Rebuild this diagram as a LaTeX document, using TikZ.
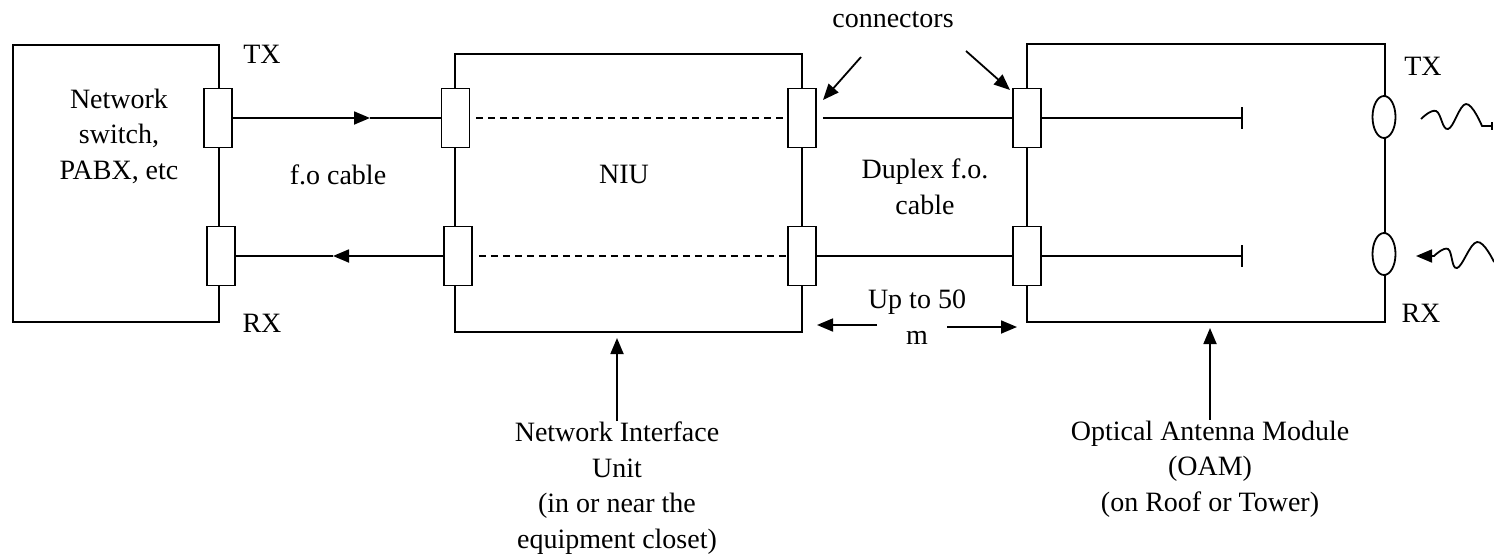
\documentclass[tikz,border=0pt]{standalone}
\usepackage{fontspec}
\setmainfont{Liberation Serif}
\usetikzlibrary{arrows.meta,shapes.geometric}

\begin{document}
\begin{tikzpicture}[x=0.5pt,y=-0.5pt,line width=0.9pt,
  font=\fontsize{14}{17.75}\selectfont,
  >={Triangle[length=8pt,width=6.5pt]},
  unitbox/.style={draw,inner sep=0pt},
  conn/.style={draw,fill=white,inner sep=0pt,minimum width=14pt,minimum height=29.5pt},
  lens/.style={ellipse,draw,fill=white,inner sep=0pt,minimum width=11.5pt,minimum height=21pt},
  lbl/.style={align=center,inner sep=0pt},
  stub/.style={-{Bar[width=11pt,line width=1.2pt]}}]
\useasboundingbox (0,0) rectangle (1494,557);
% units
\node[unitbox,minimum width=103pt,minimum height=138.5pt] (sw) at (116,183.5) {};
\node[unitbox,minimum width=173.5pt,minimum height=139pt] (niu) at (628.5,193) {};
\node[unitbox,minimum width=179pt,minimum height=139pt] (oam) at (1206,183) {};
% connectors
\node[conn] (swtx) at (218,118) {};
\node[conn] (swrx) at (221,256) {};
\node[conn] (niutl) at (455.5,118) {};
\node[conn] (niubl) at (458,256) {};
\node[conn] (niutr) at (802,118) {};
\node[conn] (niubr) at (802,256) {};
\node[conn] (oamt) at (1027,118) {};
\node[conn] (oamb) at (1027,256) {};
\node[lens] (txlens) at (1384,117) {};
\node[lens] (rxlens) at (1384,254) {};
% labels
\node[lbl] (swlbl) at (119,136) {Network\\switch,\\PABX, etc};
\node[lbl] (swtxlbl) at (262,54) {TX};
\node[lbl] (swrxlbl) at (262,323) {RX};
\node[lbl] (cable) at (338,175) {f.o cable};
\node[lbl] (niulbl) at (624,174) {NIU};
\node[lbl] (duplex) at (925,187) {Duplex f.o.\\cable};
\node[lbl] (conlbl) at (893,20) {connectors};
\node[lbl] (dist) at (917,317) {Up to 50\\m};
\node[lbl] (oamtxlbl) at (1423,66) {TX};
\node[lbl] (oamrxlbl) at (1421,313) {RX};
\node[lbl] (niucap) at (617,488) {Network Interface\\Unit\\(in or near the\\equipment closet)};
\node[lbl] (oamcap) at (1210,469) {Optical Antenna Module\\(OAM)\\(on Roof or Tower)};
% free ends
\coordinate (txmid) at (370,118);
\coordinate (rxmid) at (333,256);
\coordinate (tend) at (1243,118);
\coordinate (bend) at (1243,256);
\coordinate (ca) at (861,57);
\coordinate (cb) at (823,100);
\coordinate (cc) at (966,51);
\coordinate (cd) at (1010,90);
\coordinate (dl) at (877,325);
\coordinate (dla) at (817,325);
\coordinate (dr) at (947,327);
\coordinate (dra) at (1017,327);
\coordinate (niutip) at (617,338);
\coordinate (oamtip) at (1210,328);
% cables
\draw[->] (swtx) -- (txmid);
\draw (txmid) -- (niutl);
\draw[->] (niubl) -- (rxmid);
\draw (rxmid) -- (swrx);
\draw[dashed,dash pattern=on 3.5pt off 2.5pt,shorten <=3pt] (niutl) -- (niutr);
\draw[dashed,dash pattern=on 3.5pt off 2.5pt,shorten <=3pt] (niubl) -- (niubr);
\draw[shorten <=3pt] (niutr) -- (oamt);
\draw (niubr) -- (oamb);
\draw[stub] (oamt) -- (tend);
\draw[stub] (oamb) -- (bend);
% pointers
\draw[->] (ca) -- (cb);
\draw[->] (cc) -- (cd);
\draw[->] (dl) -- (dla);
\draw[->] (dr) -- (dra);
\draw[->] (niucap.north) -- (niutip);
\draw[->] (oamcap.north) -- (oamtip);
% light
\draw[-{Bar[width=4pt]}] plot[smooth,tension=0.7] coordinates {(1421,119) (1436,111) (1448,129) (1466,104) (1482,126)} -- (1493,126);
\draw[->] plot[smooth,tension=0.7] coordinates {(1494,262) (1477,242) (1457,268) (1448,249) (1434,256)} -- (1416,256);
\end{tikzpicture}
\end{document}
